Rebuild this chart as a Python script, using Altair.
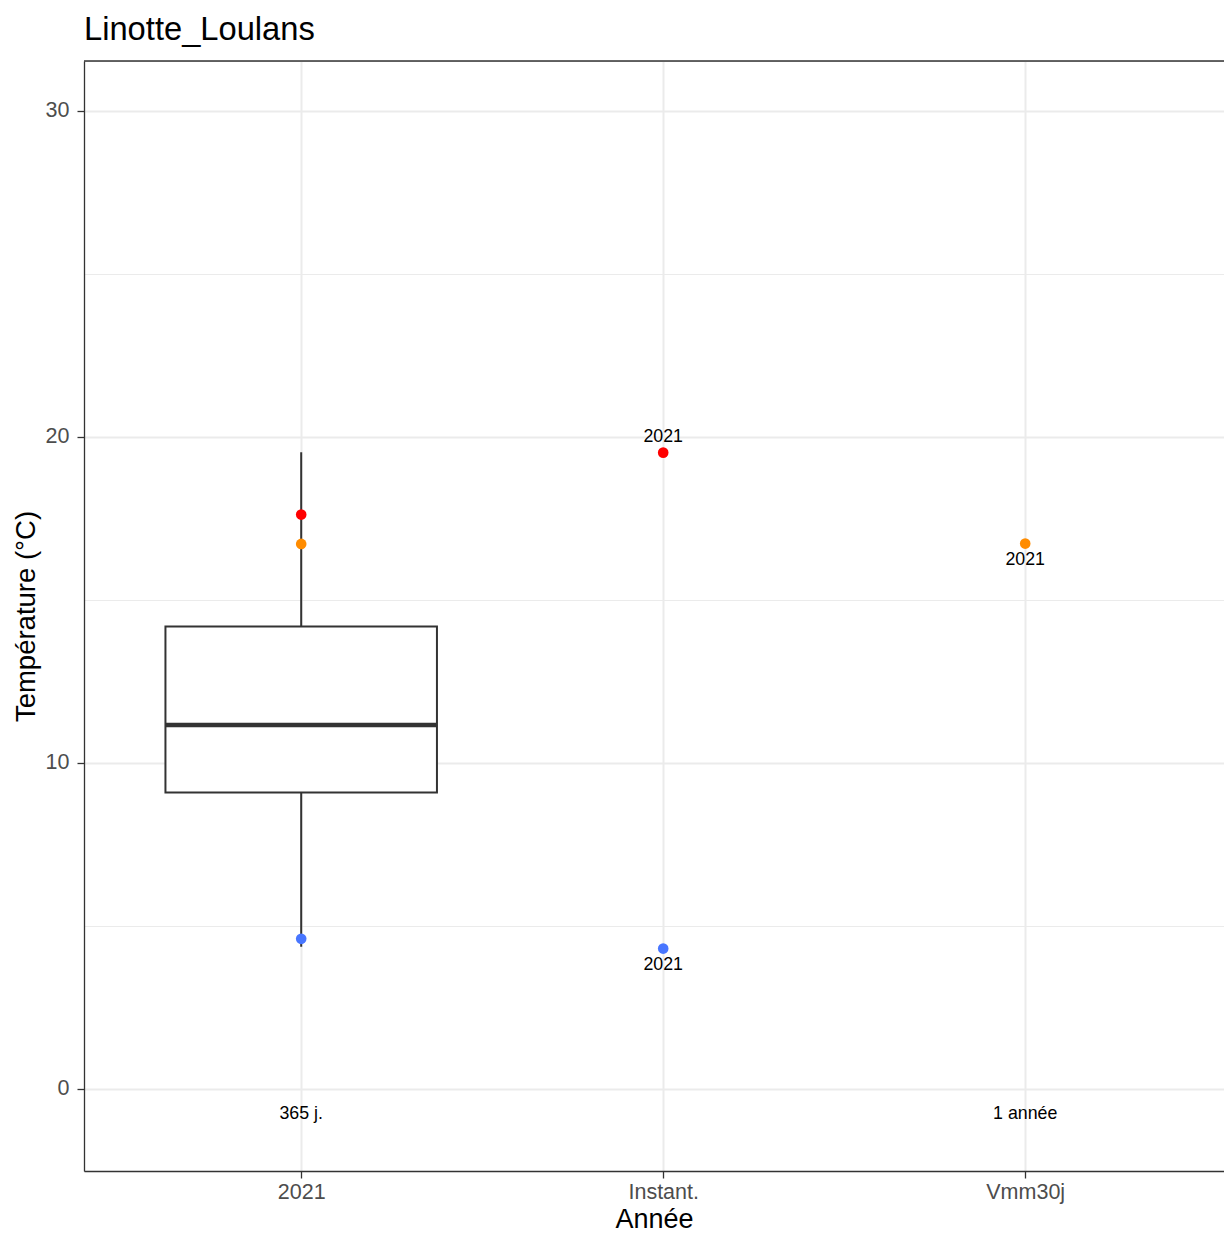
import json
import altair as alt
import pandas as pd

# ---- data ----
categories = ["2021", "Instant.", "Vmm30j"]

box_cat = ["2021"]
box_low = [4.36]
box_q1 = [9.09]
box_median = [11.16]
box_q3 = [14.18]
box_high = [19.52]

point_cat = ["2021", "2021", "2021", "Instant.", "Instant.", "Vmm30j"]
point_val = [17.61, 16.71, 4.60, 19.51, 4.30, 16.72]
point_kind = ["max", "moy", "min", "max", "min", "moy"]

label_cat = ["Instant.", "Instant.", "Vmm30j"]
label_val = [19.51, 4.30, 16.72]
label_text = ["2021", "2021", "2021"]
label_side = ["above", "below", "below"]

footer_cat = ["2021", "Vmm30j"]
footer_text = ["365 j.", "1 année"]
footer_val = [-0.76, -0.76]

chart_title = ["Linotte_Loulans"]

kinds = ["max", "moy", "min"]
kind_colors = ["#FF0000", "#FF8C00", "#4876FF"]

FONT = "Liberation Sans"
W, H = 1140, 1110
X_DOMAIN = [0.4, 0.4 + W / 362.0]
Y_DOMAIN = [-2.52, 31.52]
INK = "#333333"

idx_expr = f"indexof({json.dumps(categories)}, datum.cat) + 1"

box_df = pd.DataFrame({"cat": box_cat, "lo": box_low, "q1": box_q1,
                       "med": box_median, "q3": box_q3, "hi": box_high})
pts_df = pd.DataFrame({"cat": point_cat, "val": point_val, "kind": point_kind})
lab_df = pd.DataFrame({"cat": label_cat, "val": label_val, "txt": label_text, "side": label_side})
foot_df = pd.DataFrame({"cat": footer_cat, "txt": footer_text, "val": footer_val})
title_df = pd.DataFrame({"txt": chart_title})

xscale = alt.Scale(domain=X_DOMAIN, nice=False, zero=False)
yscale = alt.Scale(domain=Y_DOMAIN, nice=False, zero=False)

x_axis = alt.Axis(
    values=[1, 2, 3],
    labelExpr=f"{json.dumps(categories)}[datum.value - 1]",
    title="Année",
    grid=True, gridColor="#ebebeb", gridWidth=2,
    tickColor=INK, tickSize=7, tickWidth=1.3,
    domainColor=INK, domainWidth=1.3,
    labelFont=FONT, labelFontSize=21.5, labelColor="#4d4d4d",
    labelBaseline="alphabetic", labelPadding=20,
    titleFont=FONT, titleFontSize=27, titleColor="black", titleFontWeight="normal",
    titleBaseline="alphabetic", titleY=56,
)
y_axis = alt.Axis(
    values=[0, 5, 10, 15, 20, 25, 30],
    labelExpr="datum.value % 10 == 0 ? datum.label : ''",
    title="Température (°C)",
    grid=True, gridColor="#ebebeb",
    gridWidth={"condition": {"test": "datum.value % 10 != 0", "value": 1}, "value": 2},
    tickOpacity={"condition": {"test": "datum.value % 10 != 0", "value": 0}, "value": 1},
    tickColor=INK, tickSize=7, tickWidth=1.3,
    domainColor=INK, domainWidth=1.3,
    labelFont=FONT, labelFontSize=21.5, labelColor="#4d4d4d", labelPadding=8,
    titleFont=FONT, titleFontSize=27.5, titleColor="black", titleFontWeight="normal",
    titleBaseline="alphabetic", titleX=-50,
)

base_box = alt.Chart(box_df).transform_calculate(
    xi=idx_expr
).transform_calculate(
    x0="datum.xi - 0.375", x1="datum.xi + 0.375"
)

whisker = base_box.mark_rule(color=INK, strokeWidth=2).encode(
    x=alt.X("xi:Q", scale=xscale, axis=x_axis),
    y=alt.Y("lo:Q", scale=yscale, axis=y_axis),
    y2="hi:Q",
)
box = base_box.mark_rect(fill="white", stroke=INK, strokeWidth=2).encode(
    x=alt.X("x0:Q", scale=xscale), x2="x1:Q",
    y=alt.Y("q1:Q", scale=yscale), y2="q3:Q",
)
median = base_box.mark_rule(color=INK, strokeWidth=4.5).encode(
    x=alt.X("x0:Q", scale=xscale), x2="x1:Q",
    y=alt.Y("med:Q", scale=yscale),
)

points = alt.Chart(pts_df).transform_calculate(xi=idx_expr).mark_circle(
    size=113, opacity=1
).encode(
    x=alt.X("xi:Q", scale=xscale),
    y=alt.Y("val:Q", scale=yscale),
    color=alt.Color("kind:N", scale=alt.Scale(domain=kinds, range=kind_colors), legend=None),
)

lab_base = alt.Chart(lab_df).transform_calculate(xi=idx_expr)
lab_above = lab_base.transform_filter("datum.side == 'above'").mark_text(
    font=FONT, fontSize=17.8, color="black", baseline="middle", dy=-16
).encode(x=alt.X("xi:Q", scale=xscale), y=alt.Y("val:Q", scale=yscale), text="txt:N")
lab_below = lab_base.transform_filter("datum.side == 'below'").mark_text(
    font=FONT, fontSize=17.8, color="black", baseline="middle", dy=16
).encode(x=alt.X("xi:Q", scale=xscale), y=alt.Y("val:Q", scale=yscale), text="txt:N")

footer = alt.Chart(foot_df).transform_calculate(xi=idx_expr).mark_text(
    font=FONT, fontSize=17.8, color="black", baseline="middle"
).encode(x=alt.X("xi:Q", scale=xscale), y=alt.Y("val:Q", scale=yscale), text="txt:N")

top_border = alt.Chart(pd.DataFrame({"a": [0]})).mark_rule(color=INK, strokeWidth=1.3).encode(
    x=alt.value(0), x2=alt.value(W), y=alt.value(0)
)

title_mark = alt.Chart(title_df).mark_text(
    font=FONT, fontSize=32.7, color="black", align="left", baseline="alphabetic"
).encode(x=alt.value(0), y=alt.value(-21), text="txt:N")

chart = alt.layer(
    whisker, box, median, points, lab_above, lab_below, footer, top_border, title_mark
).properties(
    width=W, height=H,
    autosize=alt.AutoSizeParams(type="none"),
    padding={"left": 76, "top": 53, "right": 0, "bottom": 62},
).configure_view(stroke=None).configure(background="white")

chart.save("out.html", embed_options={"renderer": "svg", "actions": False})
